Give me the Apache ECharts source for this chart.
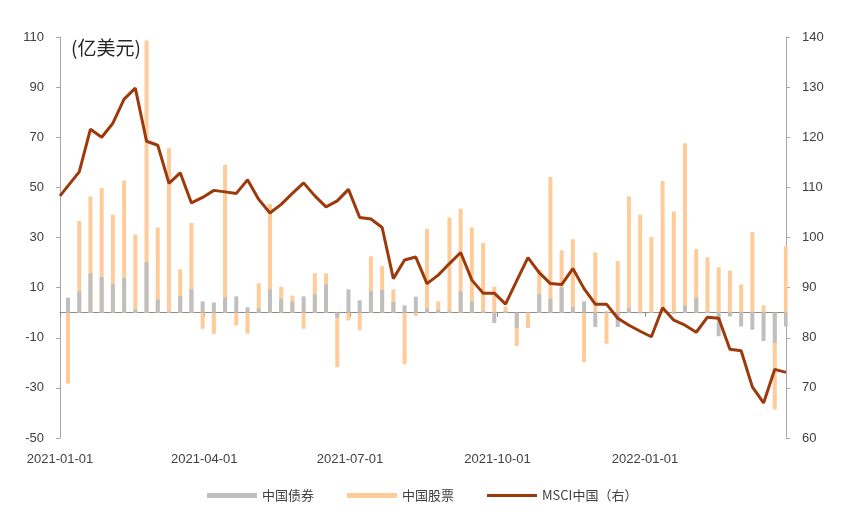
<!DOCTYPE html>
<html>
<head>
<meta charset="utf-8">
<script src="https://cdn.jsdelivr.net/npm/echarts@6/dist/echarts.min.js"></script>
<style>
html,body{margin:0;padding:0;background:#fff;}
#chart{width:851px;height:527px;}
</style>
</head>
<body>
<div id="chart"></div>
<script>
// ---- data ----
const axisStart = '2021-01-01';
const axisDays = 454;               // 2021-01-01 .. 2022-03-30
const firstWeek = '2021-01-06';     // first weekly observation (Wednesday)
const xTickLabels = ['2021-01-01', '2021-04-01', '2021-07-01', '2021-10-01', '2022-01-01'];
const leftTicks = [-50, -30, -10, 10, 30, 50, 70, 90, 110];

const bondFlows = [6, 8.5, 15.7, 14.2, 11.3, 13.8, 1.2, 20.2, 5.2, 0.5, 6.6, 9.4, 4.5, 4.1, 6.1, 6.5,
  2.1, 1.7, 9.4, 5.5, 4.5, 6.5, 7.3, 11.3, -2.0, 9.3, 4.9, 8.5, 9.0, 4.3, 2.9, 6.4,
  1.6, 1.2, 0.5, 8.5, 4.5, 0.5, -4.1, 0.5, -6.1, 0.3, 7.4, 5.6, 10.1, 2.3, 4.5, -5.7,
  0.5, -5.7, 1.9, -0.3, 0.3, 0.3, -0.5, 2.9, 6.0, 0.5, -9.4, -1.5, -5.5, -6.8, -11.3, -12.0, -5.5];

const equityFlows = [-28.3, 36.6, 46.4, 49.7, 39.1, 52.7, 31.2, 108.6, 34.0, 65.7, 17.3, 35.8, -6.4, -8.4, 59.0, -5.1,
  -8.4, 11.7, 43.4, 10.4, 6.8, -6.4, 15.7, 15.7, -21.7, -3.1, -7.0, 22.5, 18.6, 9.3, -20.6, -1.3,
  33.5, 4.5, 38.0, 41.5, 34.0, 27.8, 10.4, 2.4, -13.3, -6.1, 17.2, 54.1, 24.9, 29.3, -19.7, 24.1,
  -12.4, 20.6, 46.4, 39.1, 30.2, 52.5, 40.4, 67.6, 25.4, 22.1, 18.1, 16.8, 11.3, 32.2, 2.9, -38.6, 26.5];

const msciStartValue = 108.3;       // value on 2021-01-01
const msciWeekly = [110.3, 113.1, 121.6, 120.0, 122.8, 127.6, 129.8, 119.2, 118.4, 110.8, 112.9, 106.9, 108.0, 109.4, 109.1, 108.8,
  111.5, 107.6, 104.9, 106.6, 108.8, 110.9, 108.3, 106.1, 107.3, 109.6, 104.0, 103.7, 102.0, 91.8, 95.5, 96.1,
  90.8, 92.5, 94.8, 97.0, 91.5, 88.9, 88.9, 86.7, 91.4, 96.0, 93.0, 90.8, 90.6, 93.8, 89.8, 86.7,
  86.7, 83.9, 82.5, 81.3, 80.2, 86.0, 83.5, 82.5, 81.1, 84.1, 83.9, 77.7, 77.4, 70.2, 67.0, 73.7, 73.1];

// ---- build daily category axis ----
function fmt(d) {
  const m = d.getUTCMonth() + 1, dd = d.getUTCDate();
  return d.getUTCFullYear() + '-' + (m < 10 ? '0' : '') + m + '-' + (dd < 10 ? '0' : '') + dd;
}
const t0 = Date.parse(axisStart + 'T00:00:00Z');
const days = [];
for (let i = 0; i < axisDays; i++) days.push(fmt(new Date(t0 + i * 86400000)));
const firstIdx = days.indexOf(firstWeek);
const weekIdx = bondFlows.map((_, k) => firstIdx + 7 * k);

const bondData = bondFlows.map((v, k) => [weekIdx[k], v]);
const equityData = equityFlows.map((v, k) => [weekIdx[k], v]);
const msciData = [[0, msciStartValue]].concat(msciWeekly.map((v, k) => [weekIdx[k], v]));

const showDate = (i, v) => xTickLabels.indexOf(v) >= 0;
const FONT = 'Liberation Sans';
const CJK = 'Noto Sans CJK SC';

const chart = echarts.init(document.getElementById('chart'), null, {renderer: 'canvas'});
chart.setOption({
  animation: false,
  backgroundColor: '#fff',
  title: {
    text: '(亿美元)', left: 66, top: 33,
    textStyle: {fontFamily: CJK, fontSize: 19, fontWeight: 'normal', color: '#262626'}
  },
  legend: {
    bottom: 20, left: 202,
    itemWidth: 50, itemHeight: 5, itemGap: 33,
    textStyle: {fontFamily: CJK, fontSize: 13, color: '#404040'},
    data: [
      {name: '中国债券', icon: 'rect'},
      {name: '中国股票', icon: 'rect'},
      {name: 'MSCI中国（右）', icon: 'path://M0,0M50,5M0,1L50,1L50,4L0,4Z'}
    ]
  },
  grid: {left: 60, right: 65, top: 37, bottom: 89, containLabel: false},
  xAxis: [
    {
      type: 'category', data: days, boundaryGap: false, position: 'bottom',
      axisLine: {show: false, onZero: false},
      axisTick: {show: false},
      axisLabel: {interval: showDate, margin: 15, fontFamily: FONT, fontSize: 13, color: '#404040'},
      splitLine: {show: false}
    },
    {
      type: 'category', data: days, boundaryGap: false, position: 'top',
      axisLine: {show: true, onZero: true, onZeroAxisIndex: 0, lineStyle: {color: '#8c8c8c', width: 1}},
      axisTick: {show: true, inside: true, length: 4, interval: showDate, lineStyle: {color: '#8c8c8c'}},
      axisLabel: {show: false},
      splitLine: {show: false}
    }
  ],
  yAxis: [
    {
      type: 'value', min: -50, max: 110, position: 'left',
      axisLine: {show: true, lineStyle: {color: '#a6a6a6'}},
      axisTick: {show: true, length: 4, customValues: leftTicks, lineStyle: {color: '#a6a6a6'}},
      axisLabel: {customValues: leftTicks, margin: 16, fontFamily: FONT, fontSize: 13, color: '#404040'},
      splitLine: {show: false}
    },
    {
      type: 'value', min: 60, max: 140, interval: 10, position: 'right',
      axisLine: {show: true, lineStyle: {color: '#a6a6a6'}},
      axisTick: {show: true, length: 4, lineStyle: {color: '#a6a6a6'}},
      axisLabel: {margin: 16, fontFamily: FONT, fontSize: 13, color: '#404040'},
      splitLine: {show: false}
    }
  ],
  series: [
    {
      name: '中国债券', type: 'bar', xAxisIndex: 0, yAxisIndex: 0,
      data: bondData, barWidth: 4, barGap: '-100%', z: 3,
      itemStyle: {color: '#bfbfbf'}
    },
    {
      name: '中国股票', type: 'bar', xAxisIndex: 0, yAxisIndex: 0,
      data: equityData, barWidth: 4, barGap: '-100%', z: 2,
      itemStyle: {color: '#ffcc99'}
    },
    {
      name: 'MSCI中国（右）', type: 'line', xAxisIndex: 0, yAxisIndex: 1,
      data: msciData, symbol: 'none', z: 4,
      lineStyle: {color: '#9c3a0c', width: 3},
      itemStyle: {color: '#9c3a0c'}
    }
  ]
});
</script>
</body>
</html>
